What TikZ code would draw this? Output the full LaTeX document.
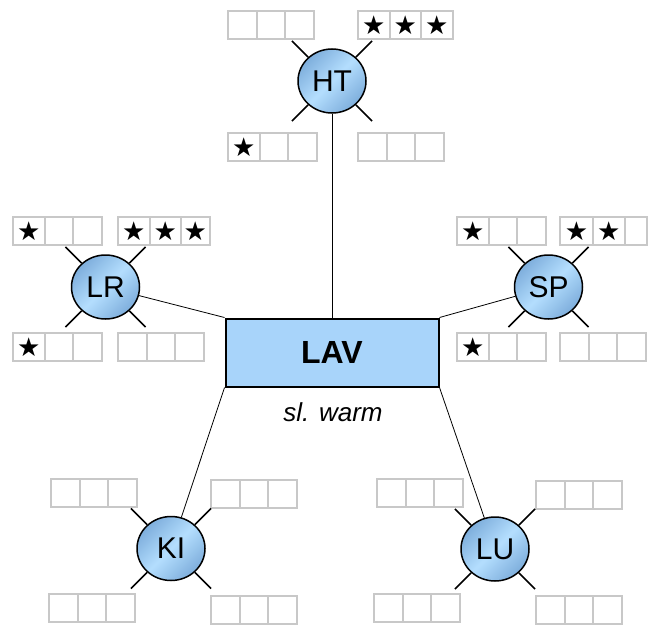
\documentclass[tikz,border=0pt]{standalone}
\usepackage{fontspec}
\setmainfont{Liberation Sans}
\newfontfamily\symfont{DejaVu Sans}
\usetikzlibrary{positioning,shapes.geometric}

\definecolor{lavblue}{RGB}{168,212,250}
\definecolor{sitedark}{RGB}{126,174,220}
\definecolor{sitelight}{RGB}{180,222,254}
\definecolor{cellgray}{RGB}{200,200,200}

\begin{document}
\begin{tikzpicture}[
  x=1pt, y=1pt,
  hub/.style={draw, line width=2pt, fill=lavblue, minimum width=213pt, minimum height=68pt,
    font=\bfseries\fontsize{32}{32}\selectfont},
  site/.style={ellipse, draw, line width=1.5pt, inner sep=0pt, minimum width=68pt, minimum height=64pt,
    shading=axis, top color=sitedark, bottom color=sitedark, middle color=sitelight, shading angle=45,
    font=\fontsize{30}{30}\selectfont},
  cell/.style={draw=cellgray, line width=2pt, outer sep=0pt, inner sep=0pt,
    minimum width=28.5pt, minimum height=28pt},
  starcell/.style={cell, minimum width=31.5pt, font=\symfont\fontsize{26}{26}\selectfont},
  tick/.style={line width=1.6pt},
  link/.style={line width=0.8pt}
]
\useasboundingbox (0,0) rectangle (652,-626);

\node[hub] (LAV) at (332,-352.5) {LAV};
\node[anchor=base, font=\itshape\fontsize{26}{26}\selectfont] (warm) at (333,-421) {sl. warm};

\node[site] (HT) at (332,-81) {HT};
\node[site] (LR) at (105.5,-287) {LR};
\node[site] (SP) at (548.5,-287) {SP};
\node[site] (KI) at (171,-548.5) {KI};
\node[site] (LU) at (495,-549) {LU};

% HT
\node[cell, anchor=north west] (htA1) at (228,-11) {};
\node[cell, right=0pt of htA1] (htA2) {};
\node[cell, right=0pt of htA2] (htA3) {};
\node[starcell, anchor=north west] (htB1) at (358,-11) {★};
\node[starcell, right=0pt of htB1] (htB2) {★};
\node[starcell, right=0pt of htB2] (htB3) {★};
\node[starcell, anchor=north west] (htC1) at (228,-133) {★};
\node[cell, right=0pt of htC1] (htC2) {};
\node[cell, right=0pt of htC2] (htC3) {};
\node[cell, anchor=north west] (htD1) at (358,-133) {};
\node[cell, right=0pt of htD1] (htD2) {};
\node[cell, right=0pt of htD2] (htD3) {};

% LR
\node[starcell, anchor=north west] (lrA1) at (13,-217) {★};
\node[cell, right=0pt of lrA1] (lrA2) {};
\node[cell, right=0pt of lrA2] (lrA3) {};
\node[starcell, anchor=north west] (lrB1) at (118,-217) {★};
\node[starcell, right=0pt of lrB1] (lrB2) {★};
\node[starcell, right=0pt of lrB2, minimum width=28.5pt] (lrB3) {★};
\node[starcell, anchor=north west] (lrC1) at (13,-333) {★};
\node[cell, right=0pt of lrC1] (lrC2) {};
\node[cell, right=0pt of lrC2] (lrC3) {};
\node[cell, anchor=north west] (lrD1) at (118,-333) {};
\node[cell, right=0pt of lrD1] (lrD2) {};
\node[cell, right=0pt of lrD2] (lrD3) {};

% SP
\node[starcell, anchor=north west] (spA1) at (457,-217) {★};
\node[cell, right=0pt of spA1] (spA2) {};
\node[cell, right=0pt of spA2] (spA3) {};
\node[starcell, anchor=north west, minimum width=33pt] (spB1) at (560,-217) {★};
\node[starcell, right=0pt of spB1] (spB2) {★};
\node[cell, right=0pt of spB2, minimum width=22pt] (spB3) {};
\node[starcell, anchor=north west] (spC1) at (457,-333) {★};
\node[cell, right=0pt of spC1] (spC2) {};
\node[cell, right=0pt of spC2] (spC3) {};
\node[cell, anchor=north west] (spD1) at (560,-333) {};
\node[cell, right=0pt of spD1] (spD2) {};
\node[cell, right=0pt of spD2] (spD3) {};

% KI
\node[cell, anchor=north west] (kiA1) at (51,-479) {};
\node[cell, right=0pt of kiA1] (kiA2) {};
\node[cell, right=0pt of kiA2] (kiA3) {};
\node[cell, anchor=north west] (kiB1) at (211,-480) {};
\node[cell, right=0pt of kiB1] (kiB2) {};
\node[cell, right=0pt of kiB2] (kiB3) {};
\node[cell, anchor=north west] (kiC1) at (49,-594) {};
\node[cell, right=0pt of kiC1] (kiC2) {};
\node[cell, right=0pt of kiC2] (kiC3) {};
\node[cell, anchor=north west] (kiD1) at (211,-596) {};
\node[cell, right=0pt of kiD1] (kiD2) {};
\node[cell, right=0pt of kiD2] (kiD3) {};

% LU
\node[cell, anchor=north west] (luA1) at (377,-479) {};
\node[cell, right=0pt of luA1] (luA2) {};
\node[cell, right=0pt of luA2] (luA3) {};
\node[cell, anchor=north west] (luB1) at (536,-481) {};
\node[cell, right=0pt of luB1] (luB2) {};
\node[cell, right=0pt of luB2] (luB3) {};
\node[cell, anchor=north west] (luC1) at (374,-594) {};
\node[cell, right=0pt of luC1] (luC2) {};
\node[cell, right=0pt of luC2] (luC3) {};
\node[cell, anchor=north west] (luD1) at (536,-596) {};
\node[cell, right=0pt of luD1] (luD2) {};
\node[cell, right=0pt of luD2] (luD3) {};

% ticks
\draw[tick] (HT.45) -- ++(45:23) (HT.135) -- ++(135:23) (HT.225) -- ++(225:23) (HT.315) -- ++(315:23);
\draw[tick] (LR.45) -- ++(45:23) (LR.135) -- ++(135:23) (LR.225) -- ++(225:23) (LR.315) -- ++(315:23);
\draw[tick] (SP.45) -- ++(45:23) (SP.135) -- ++(135:23) (SP.225) -- ++(225:23) (SP.315) -- ++(315:23);
\draw[tick] (KI.45) -- ++(45:23) (KI.135) -- ++(135:23) (KI.225) -- ++(225:23) (KI.315) -- ++(315:23);
\draw[tick] (LU.45) -- ++(45:23) (LU.135) -- ++(135:23) (LU.225) -- ++(225:23) (LU.315) -- ++(315:23);

\draw[link] (HT) -- (LAV.north);
\draw[link] (LR) -- (LAV.north west);
\draw[link] (SP) -- (LAV.north east);
\draw[link] (KI) -- (LAV.south west);
\draw[link] (LU) -- (LAV.south east);

\end{tikzpicture}
\end{document}
